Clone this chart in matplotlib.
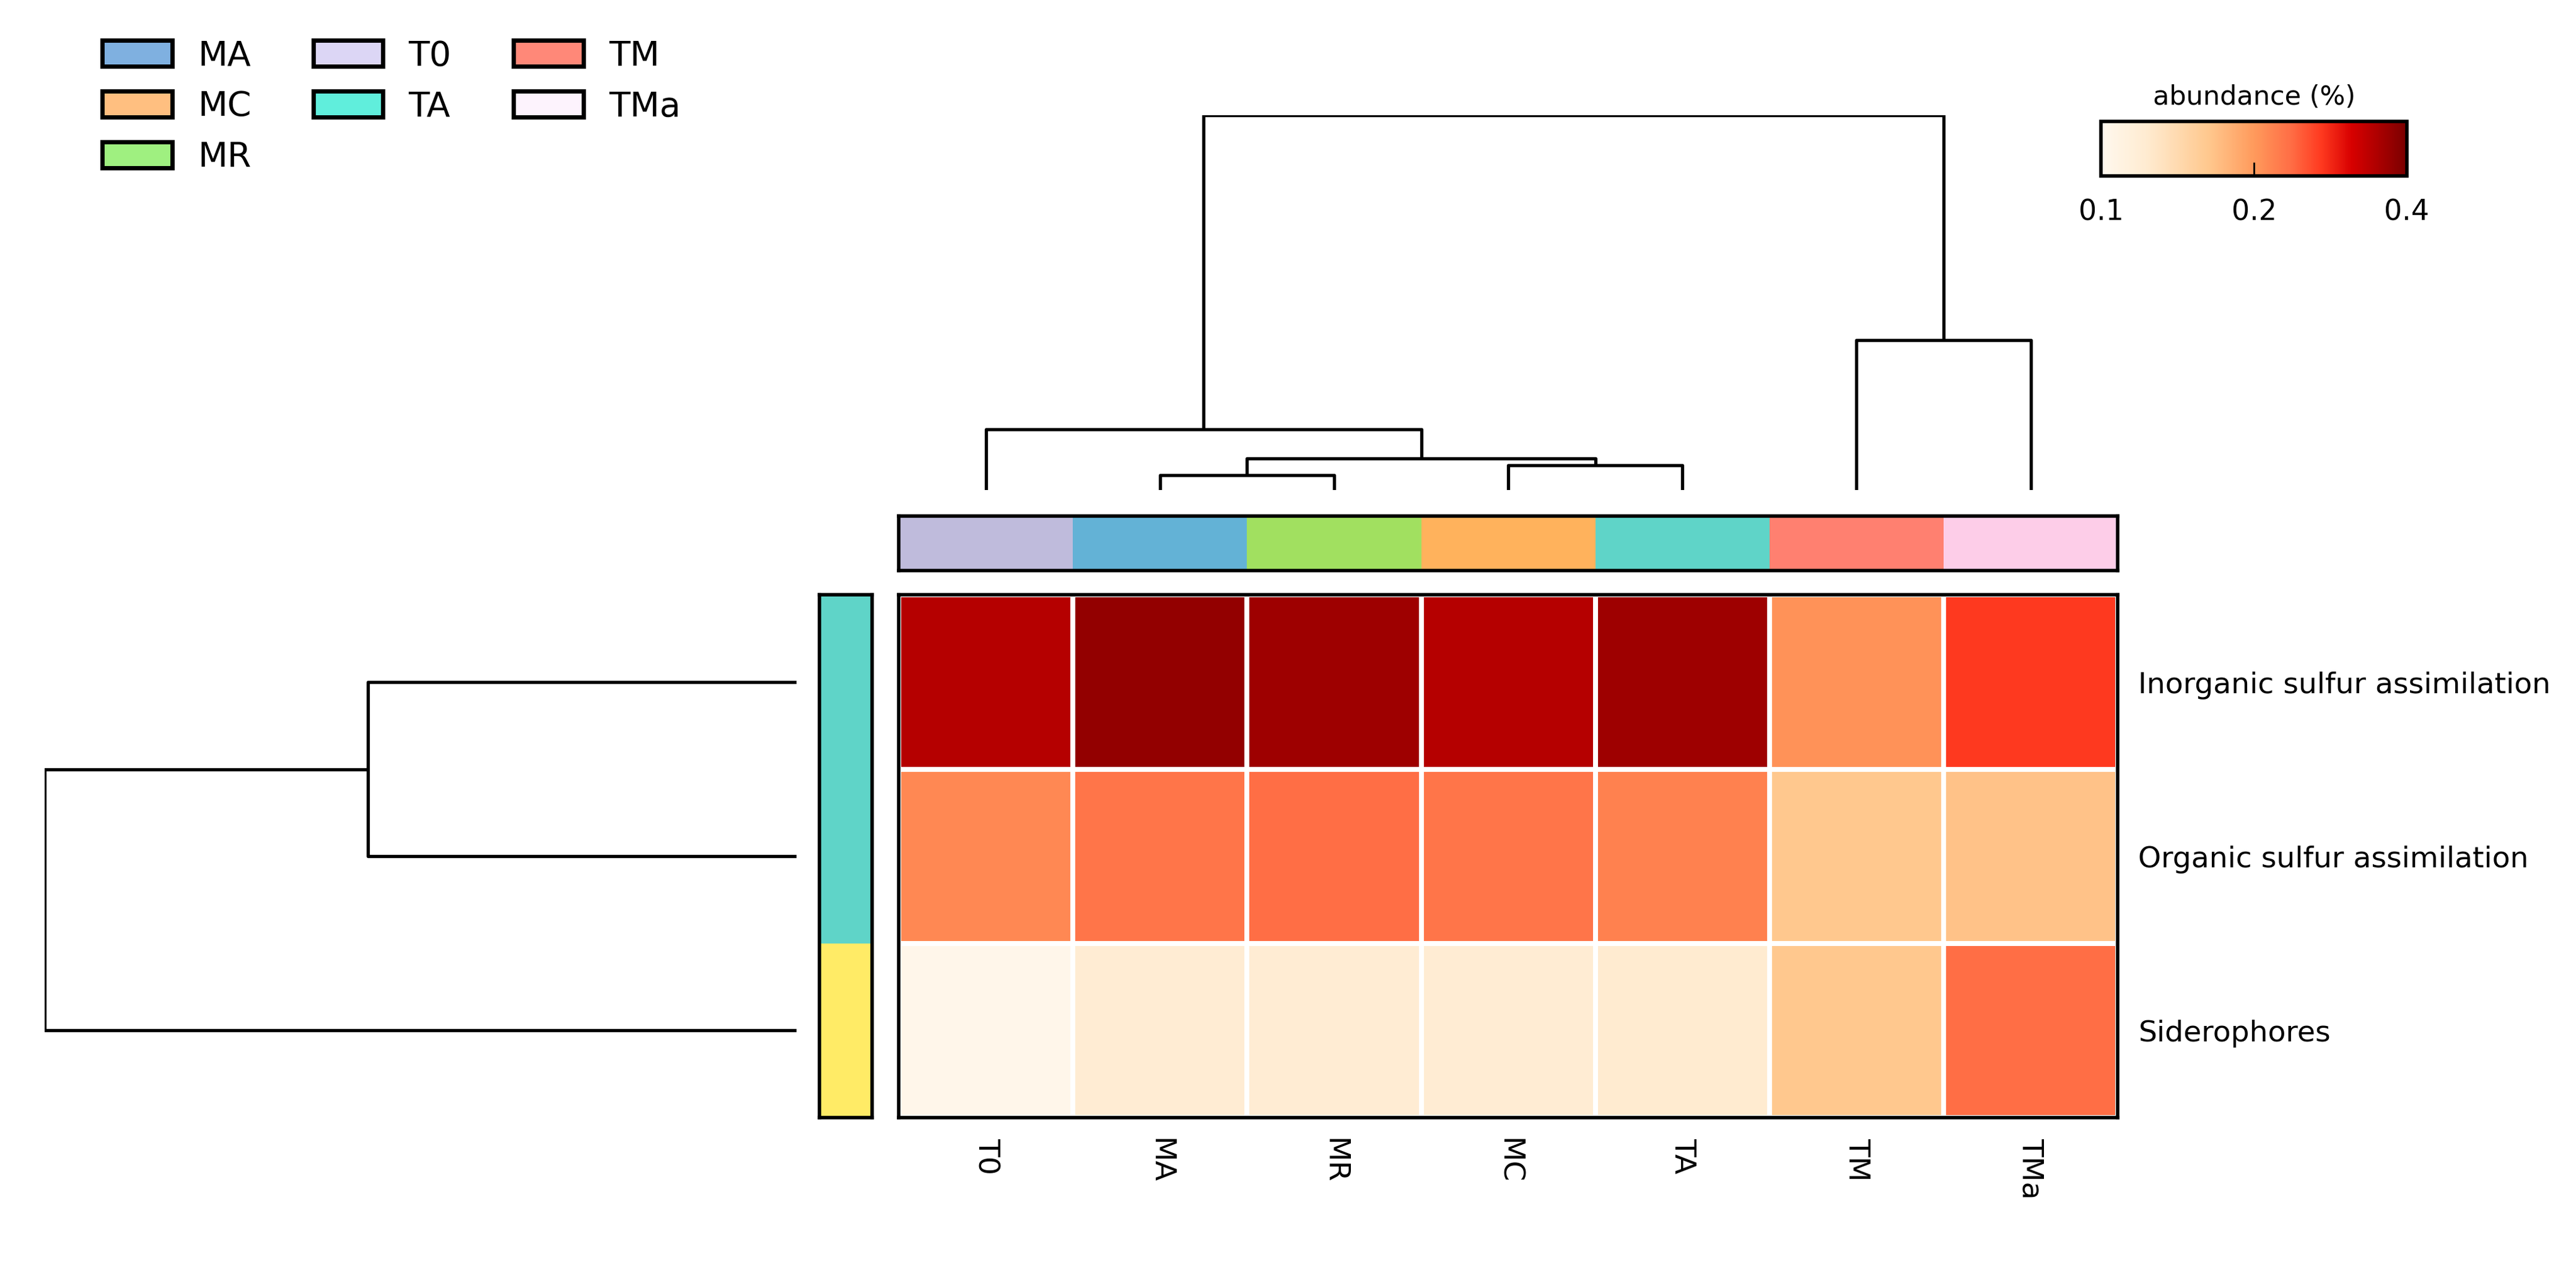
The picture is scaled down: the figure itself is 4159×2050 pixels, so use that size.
import matplotlib
matplotlib.use("Agg")
import matplotlib.pyplot as plt
import numpy as np
from matplotlib.colors import LinearSegmentedColormap, LogNorm, ListedColormap
from matplotlib.patches import Patch
from matplotlib.ticker import FixedLocator, FixedFormatter, NullLocator

plt.rcParams['font.family'] = ['DejaVu Sans']

samples = ['T0', 'MA', 'MR', 'MC', 'TA', 'TM', 'TMa']
pathways = ['Inorganic sulfur assimilation', 'Organic sulfur assimilation', 'Siderophores']

abundance = np.array([
    [0.343, 0.373, 0.363, 0.343, 0.363, 0.206, 0.271],
    [0.214, 0.230, 0.236, 0.230, 0.220, 0.162, 0.167],
    [0.103, 0.121, 0.121, 0.121, 0.123, 0.162, 0.236],
])

sample_colors = ['#bfbbdc', '#63b2d6', '#a1e060', '#ffb25c', '#5fd4c8', '#ff8070', '#fdcde8']
pathway_groups = ['#5fd4c8', '#5fd4c8', '#ffeb66']

legend_names = ['MA', 'MC', 'MR', 'T0', 'TA', 'TM', 'TMa']
legend_colors = ['#7fb0e0', '#ffbf80', '#9ff080', '#dcd6f5', '#60eedc', '#ff8878', '#fdf3fd']

# merges: (left node, right node, height); leaves are 0..n-1 in plotted order
col_merges = [(1, 2, 0.09), (3, 4, 0.15), (7, 8, 0.19), (0, 9, 0.37), (5, 6, 0.91), (10, 11, 2.28)]
row_merges = [(0, 1, 2.61), (3, 2, 4.58)]

cmap = LinearSegmentedColormap.from_list('abund', [
    (0.0, '#fff8ee'), (0.15, '#ffebd0'), (0.35, '#ffc88e'), (0.5, '#ff9a5c'),
    (0.62, '#ff6e45'), (0.72, '#ff3a20'), (0.82, '#d80000'), (0.9, '#b00000'),
    (1.0, '#7a0000')])
norm = LogNorm(vmin=0.1, vmax=0.4)


def dendro_segments(n, merges):
    pos = {i: i + 0.5 for i in range(n)}
    hgt = {i: 0.0 for i in range(n)}
    segs = []
    for k, (a, b, h) in enumerate(merges):
        segs.append(([pos[a], pos[a], pos[b], pos[b]], [hgt[a], h, h, hgt[b]]))
        pos[n + k] = (pos[a] + pos[b]) / 2
        hgt[n + k] = h
    return segs


fig = plt.figure(figsize=(20.795, 10.25), dpi=200)

L, W = 0.3489, 0.4732
B, H = 0.1200, 0.4115

# heatmap
ax = fig.add_axes([L, B, W, H])
ax.pcolormesh(np.arange(8), np.arange(4), abundance, cmap=cmap, norm=norm,
              edgecolors='white', linewidth=2.2)
ax.set_xlim(0, 7)
ax.set_ylim(3, 0)
ax.set_xticks(np.arange(7) + 0.5)
ax.set_xticklabels(samples, rotation=270, fontsize=17)
ax.yaxis.tick_right()
ax.set_yticks(np.arange(3) + 0.5)
ax.set_yticklabels(pathways, fontsize=17)
ax.tick_params(length=0, pad=12)
for s in ax.spines.values():
    s.set_linewidth(2)

# column colour bar
axc = fig.add_axes([L, 0.5509, W, 0.0427])
axc.pcolormesh(np.arange(8), [0, 1], np.arange(7)[None, :], cmap=ListedColormap(sample_colors))
axc.set_xticks([])
axc.set_yticks([])
for s in axc.spines.values():
    s.set_linewidth(2)

# row colour bar
axr = fig.add_axes([0.3182, B, 0.0204, H])
axr.pcolormesh([0, 1], np.arange(4), np.arange(3)[:, None], cmap=ListedColormap(pathway_groups))
axr.set_ylim(3, 0)
axr.set_xticks([])
axr.set_yticks([])
for s in axr.spines.values():
    s.set_linewidth(2)

# column dendrogram
axd = fig.add_axes([L, 0.6143, W, 0.9094 - 0.6143])
for xs, ys in dendro_segments(7, col_merges):
    axd.plot(xs, ys, color='black', linewidth=1.9, solid_capstyle='butt')
axd.set_xlim(0, 7)
axd.set_ylim(0, 2.28)
axd.axis('off')

# row dendrogram
axrd = fig.add_axes([0.0172, B, 0.3093 - 0.0172, H])
for ys, xs in dendro_segments(3, row_merges):
    axrd.plot(xs, ys, color='black', linewidth=1.9, solid_capstyle='butt')
axrd.set_ylim(3, 0)
axrd.set_xlim(4.58, 0)
axrd.axis('off')

# colour scale
cax = fig.add_axes([0.8157, 0.8615, 0.1186, 0.0427])
sm = plt.cm.ScalarMappable(norm=norm, cmap=cmap)
cb = fig.colorbar(sm, cax=cax, orientation='horizontal')
cb.outline.set_linewidth(2)
cax.xaxis.set_major_locator(FixedLocator([0.1, 0.2, 0.4]))
cax.xaxis.set_major_formatter(FixedFormatter(['0.1', '0.2', '0.4']))
cax.xaxis.set_minor_locator(NullLocator())
cax.tick_params(axis='x', direction='in', length=8, width=1, labelsize=16.5, pad=13)
cax.set_title('abundance (%)', fontsize=15.5, pad=10)

# legend
handles = [Patch(facecolor=c, edgecolor='black', linewidth=2.5) for c in legend_colors]
fig.legend(handles, legend_names, loc='upper left', bbox_to_anchor=(0.0397, 0.969), ncol=3,
           frameon=False, fontsize=20, handlelength=2.03, handleheight=0.79,
           columnspacing=1.8, labelspacing=0.5, handletextpad=0.74,
           borderpad=0, borderaxespad=0)

fig.savefig('out.png', dpi=200, facecolor='white')
